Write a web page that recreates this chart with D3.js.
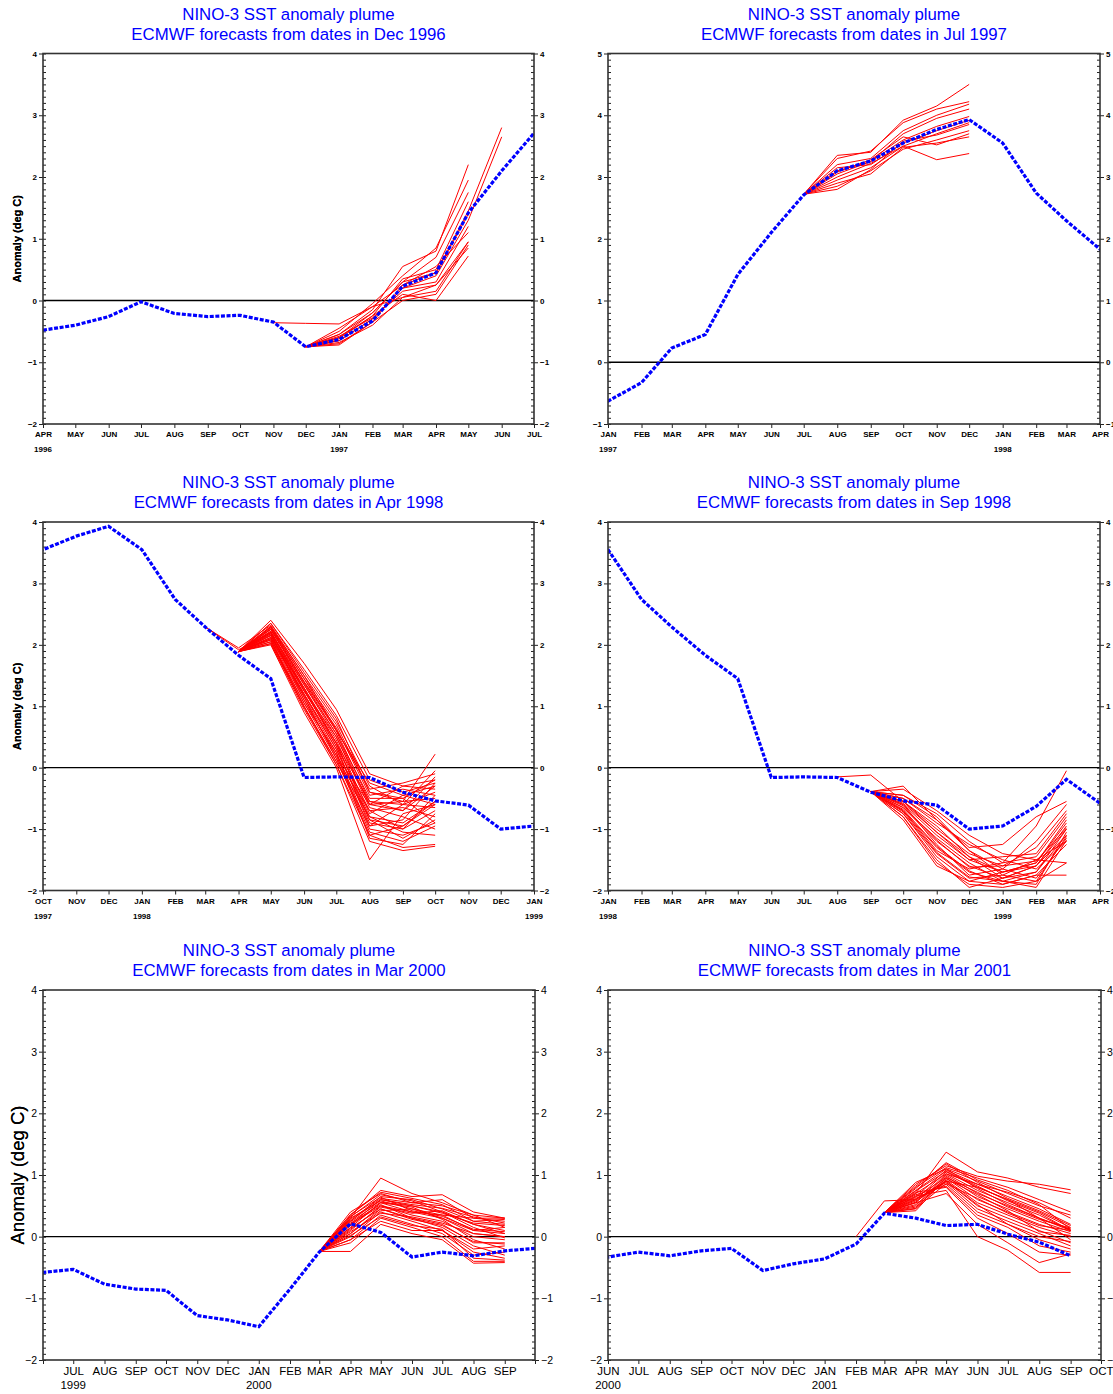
<!DOCTYPE html>
<html><head><meta charset="utf-8">
<script src="https://cdn.jsdelivr.net/npm/d3@7"></script>
<style>
body{margin:0;background:#fff}
svg{display:block}
text{font-family:"Liberation Sans",Arial,Helvetica,sans-serif}
</style>
</head><body>
<svg id="c" width="1113" height="1394"></svg>
<script>
// ---------------- DATA ----------------
// Observed NINO-3 SST anomaly (deg C), monthly (May 1999 not shown in any panel)
const obsMonths = ["1996-04","1996-05","1996-06","1996-07","1996-08","1996-09","1996-10","1996-11","1996-12",
 "1997-01","1997-02","1997-03","1997-04","1997-05","1997-06","1997-07","1997-08","1997-09","1997-10","1997-11","1997-12",
 "1998-01","1998-02","1998-03","1998-04","1998-05","1998-06","1998-07","1998-08","1998-09","1998-10","1998-11","1998-12",
 "1999-01","1999-02","1999-03","1999-04","1999-06","1999-07","1999-08","1999-09","1999-10","1999-11","1999-12",
 "2000-01","2000-02","2000-03","2000-04","2000-05","2000-06","2000-07","2000-08","2000-09","2000-10","2000-11","2000-12",
 "2001-01","2001-02","2001-03","2001-04","2001-05","2001-06","2001-07","2001-08","2001-09"];
const obsValues = [-0.48,-0.40,-0.26,-0.02,-0.21,-0.26,-0.24,-0.35,-0.75,
 -0.63,-0.33,0.23,0.45,1.42,2.10,2.71,3.10,3.26,3.55,3.77,3.93,
 3.55,2.74,2.29,1.83,1.45,-0.16,-0.15,-0.16,-0.40,-0.54,-0.61,-1.00,
 -0.95,-0.63,-0.19,-0.58,-0.58,-0.53,-0.77,-0.85,-0.87,-1.28,-1.35,
 -1.46,-0.85,-0.25,0.21,0.07,-0.33,-0.25,-0.31,-0.23,-0.19,-0.55,-0.44,
 -0.36,-0.12,0.38,0.30,0.18,0.20,0.04,-0.09,-0.31];

// Forecast ensemble members: monthly values starting at the given month
const fc1Start = "1996-12";
const fc1 = [
 [-0.75,-0.55,-0.15,0.55,0.80,2.20],
 [-0.75,-0.50,-0.05,0.40,0.85,1.95],
 [-0.75,-0.60,-0.20,0.30,0.70,1.75],
 [-0.75,-0.62,-0.25,0.35,0.50,1.60],
 [-0.75,-0.70,-0.35,0.25,0.45,1.40],
 [-0.75,-0.65,-0.30,0.20,0.30,1.20],
 [-0.75,-0.68,-0.40,0.05,0.15,0.95],
 [-0.75,-0.72,-0.35,0.00,0.10,0.90],
 [-0.75,-0.60,-0.25,0.10,0.00,0.72],
 [-0.75,-0.55,-0.20,0.30,0.45,1.45,2.80],
 [-0.75,-0.65,-0.30,0.20,0.40,1.30,2.65],
 [-0.75,-0.45,-0.10,0.25,0.55,1.10],
 [-0.75,-0.58,-0.28,0.15,0.25,0.85]
];
const fc1bStart = "1996-11";
const fc1b = [[-0.36,-0.37,-0.38,-0.10,0.05,0.25,0.95]];

const fc2Start = "1997-07";
const fc2 = [
 [2.72,3.35,3.40,3.92,4.15,4.50],
 [2.72,3.30,3.42,3.88,4.10,4.22],
 [2.72,3.20,3.30,3.75,4.00,4.18],
 [2.72,3.10,3.25,3.70,3.95,4.10],
 [2.72,3.05,3.25,3.60,3.82,3.98],
 [2.72,3.15,3.20,3.55,3.75,3.92],
 [2.72,2.95,3.15,3.50,3.70,3.88],
 [2.72,2.85,3.10,3.45,3.60,3.75],
 [2.72,2.90,3.05,3.48,3.55,3.65],
 [2.72,3.00,3.22,3.50,3.28,3.38],
 [2.72,3.08,3.28,3.65,3.52,3.70],
 [2.72,2.80,3.12,3.58,3.68,3.85]
];

const fc3Start = "1998-04";
const fc3 = [
 [1.89,2.40,1.70,0.95,-0.10,-0.30,-0.35],
 [1.89,2.35,1.60,0.85,-0.20,-0.40,-0.25],
 [1.89,2.30,1.45,0.70,-0.40,-0.55,0.22],
 [1.89,2.28,1.40,0.60,-0.55,-0.60,-0.05],
 [1.89,2.25,1.35,0.50,-0.60,-0.70,-0.15],
 [1.89,2.22,1.30,0.45,-0.75,-0.45,-0.30],
 [1.89,2.20,1.25,0.40,-0.80,-0.90,-0.55],
 [1.89,2.18,1.20,0.35,-0.70,-0.65,-0.80],
 [1.89,2.15,1.18,0.30,-0.90,-1.00,-0.70],
 [1.89,2.12,1.15,0.25,-1.00,-1.10,-0.90],
 [1.89,2.10,1.10,0.20,-1.05,-1.20,-0.95],
 [1.89,2.08,1.05,0.15,-1.10,-1.30,-1.25],
 [1.89,2.05,1.00,0.10,-0.95,-0.60,-0.40],
 [1.89,2.02,0.95,0.05,-1.20,-1.35,-1.28],
 [1.89,2.00,0.90,0.00,-1.50,-0.75,-0.60],
 [1.89,2.20,1.35,0.55,-0.50,-0.50,-0.20],
 [1.89,2.25,1.40,0.65,-0.45,-0.35,-0.45],
 [1.89,2.15,1.25,0.50,-0.65,-0.80,-1.00],
 [1.89,2.10,1.20,0.30,-0.85,-1.15,-0.85],
 [1.89,2.30,1.50,0.75,-0.30,-0.60,-0.65],
 [1.89,2.18,1.10,0.20,-0.60,-0.55,-0.50],
 [1.89,2.05,1.05,0.25,-1.15,-1.25,-0.75],
 [1.89,2.12,1.30,0.40,-0.55,-0.70,-0.30],
 [1.89,2.28,1.45,0.60,-0.25,-0.45,-0.60],
 [1.89,2.08,0.98,0.10,-0.80,-1.05,-1.10],
 [1.89,2.22,1.28,0.35,-0.95,-0.85,-0.25],
 [1.89,2.16,1.15,0.15,-0.70,-1.00,-0.45],
 [1.89,2.35,1.55,0.80,-0.40,-0.50,-0.90],
 [1.89,2.02,1.00,0.05,-1.10,-0.95,-0.55],
 [1.89,2.26,1.38,0.55,-0.60,-0.30,-0.20]
];
const fc3bStart = "1998-03";
const fc3b = [
 [2.29,1.92,2.20,1.25,0.40,-0.85,-0.95,-0.60],
 [2.29,1.95,2.32,1.50,0.62,-0.35,-0.25,-0.10]
];

const fc4Start = "1998-09";
const fc4 = [
 [-0.39,-0.45,-0.75,-1.20,-1.55,-0.95,-0.05],
 [-0.39,-0.50,-0.85,-1.30,-1.25,-0.80,-0.55],
 [-0.39,-0.55,-1.00,-1.40,-1.60,-1.30,-0.70],
 [-0.39,-0.60,-1.10,-1.50,-1.70,-1.55,-0.90],
 [-0.39,-0.65,-1.20,-1.60,-1.80,-1.60,-1.00],
 [-0.39,-0.70,-1.30,-1.70,-1.85,-1.70,-1.10],
 [-0.39,-0.75,-1.40,-1.80,-1.75,-1.50,-1.20],
 [-0.39,-0.80,-1.55,-1.90,-1.95,-1.85,-1.55],
 [-0.39,-0.85,-1.60,-1.85,-1.90,-1.75,-1.75],
 [-0.39,-0.60,-1.25,-1.75,-1.65,-1.80,-1.15],
 [-0.39,-0.55,-0.95,-1.45,-1.80,-1.60,-0.95],
 [-0.39,-0.70,-1.35,-1.65,-1.55,-1.45,-0.80],
 [-0.39,-0.65,-1.15,-1.55,-1.85,-1.90,-1.05],
 [-0.39,-0.50,-0.90,-1.25,-1.50,-1.65,-1.20],
 [-0.39,-0.75,-1.45,-1.85,-1.70,-1.55,-0.85],
 [-0.39,-0.45,-0.80,-1.35,-1.75,-1.85,-1.12],
 [-0.39,-0.80,-1.50,-1.95,-1.80,-1.70,-1.00],
 [-0.39,-0.58,-1.05,-1.50,-1.45,-1.40,-0.75],
 [-0.39,-0.68,-1.28,-1.68,-1.90,-1.75,-1.25],
 [-0.39,-0.62,-1.18,-1.62,-1.60,-1.52,-0.98],
 [-0.39,-0.72,-1.38,-1.78,-1.85,-1.95,-1.18],
 [-0.39,-0.35,-0.70,-1.10,-1.40,-1.50,-1.55],
 [-0.39,-0.30,-0.85,-1.35,-1.65,-1.20,-0.60]
];
const fc4bStart = "1998-08";
const fc4b = [[-0.15,-0.12,-0.55,-1.05,-1.45,-1.70,-1.60,-1.10]];

const fc5Start = "2000-03";
const fc5 = [
 [-0.24,0.30,0.95,0.70,0.55,0.35,0.30],
 [-0.24,0.35,0.75,0.65,0.68,0.40,0.30],
 [-0.24,0.40,0.70,0.55,0.60,0.30,0.25],
 [-0.24,0.25,0.65,0.60,0.45,0.25,0.20],
 [-0.24,0.20,0.60,0.50,0.40,0.20,0.10],
 [-0.24,0.30,0.58,0.45,0.35,0.10,0.05],
 [-0.24,0.15,0.55,0.40,0.30,0.05,0.00],
 [-0.24,0.10,0.50,0.35,0.25,0.00,-0.05],
 [-0.24,0.05,0.45,0.30,0.20,-0.10,-0.10],
 [-0.24,0.00,0.40,0.25,0.10,-0.20,-0.15],
 [-0.24,-0.05,0.35,0.20,0.05,-0.30,-0.25],
 [-0.24,-0.10,0.30,0.15,0.00,-0.40,-0.40],
 [-0.24,-0.24,0.20,0.05,-0.05,-0.43,-0.42],
 [-0.24,0.20,0.50,0.40,0.35,0.30,0.30],
 [-0.24,0.28,0.62,0.55,0.50,0.35,0.15],
 [-0.24,0.12,0.48,0.38,0.42,0.20,0.05],
 [-0.24,0.32,0.68,0.58,0.40,0.15,-0.02],
 [-0.24,0.05,0.42,0.45,0.30,0.10,0.15],
 [-0.24,0.18,0.55,0.48,0.28,-0.05,-0.20],
 [-0.24,0.22,0.52,0.30,0.15,-0.15,-0.30],
 [-0.24,-0.05,0.25,0.10,0.10,-0.25,-0.35],
 [-0.24,0.36,0.72,0.62,0.52,0.25,0.28],
 [-0.24,0.08,0.38,0.32,0.22,0.05,0.00],
 [-0.24,0.26,0.60,0.52,0.46,0.32,0.22],
 [-0.24,0.14,0.45,0.28,0.18,-0.08,-0.12],
 [-0.24,0.33,0.64,0.42,0.33,0.12,0.08],
 [-0.24,0.02,0.32,0.18,0.12,-0.35,-0.38],
 [-0.24,0.24,0.56,0.50,0.38,0.22,0.18]
];

const fc6Start = "2001-03";
const fc6 = [
 [0.39,0.70,1.37,1.05,0.95,0.80,0.70],
 [0.39,0.85,1.15,0.98,0.90,0.85,0.76],
 [0.39,0.80,1.12,0.95,0.80,0.60,0.40],
 [0.39,0.75,1.10,0.90,0.70,0.50,0.35],
 [0.39,0.65,1.08,0.85,0.65,0.45,0.20],
 [0.39,0.60,1.05,0.80,0.60,0.40,0.15],
 [0.39,0.55,1.02,0.75,0.55,0.35,0.10],
 [0.39,0.50,1.00,0.70,0.50,0.30,0.12],
 [0.39,0.45,0.98,0.65,0.45,0.25,0.08],
 [0.39,0.42,0.95,0.60,0.40,0.20,0.05],
 [0.39,0.48,0.92,0.55,0.35,0.15,0.00],
 [0.39,0.52,0.90,0.50,0.30,0.10,-0.10],
 [0.39,0.58,0.88,0.45,0.25,0.05,-0.15],
 [0.39,0.62,0.85,0.40,0.20,-0.05,-0.20],
 [0.39,0.68,0.82,0.35,0.15,-0.15,-0.25],
 [0.39,0.72,0.80,0.30,0.05,-0.25,-0.30],
 [0.39,0.66,0.75,0.00,-0.22,-0.58,-0.58],
 [0.39,0.55,0.70,0.20,-0.10,-0.42,-0.28],
 [0.39,0.78,1.20,0.92,0.75,0.52,0.12],
 [0.39,0.82,1.18,0.88,0.62,0.42,0.18],
 [0.39,0.74,1.06,0.82,0.58,0.38,0.10],
 [0.39,0.64,0.96,0.72,0.48,0.28,0.14],
 [0.39,0.88,1.10,0.78,0.52,0.30,-0.05],
 [0.39,0.46,0.86,0.62,0.38,0.18,0.10],
 [0.39,0.56,0.94,0.68,0.42,0.08,0.02],
 [0.39,0.70,1.02,0.85,0.72,0.55,0.30],
 [0.39,0.60,0.90,0.52,0.20,0.00,-0.08]
];
const fc6bStart = "2001-02";
const fc6b = [[0.00,0.58,0.60,0.90,0.80,0.60,0.30,0.10]];

// Axis tick labels
const monthsAprJul = ["APR","MAY","JUN","JUL","AUG","SEP","OCT","NOV","DEC","JAN","FEB","MAR","APR","MAY","JUN","JUL"];
const monthsJanApr = ["JAN","FEB","MAR","APR","MAY","JUN","JUL","AUG","SEP","OCT","NOV","DEC","JAN","FEB","MAR","APR"];
const monthsOctJan = ["OCT","NOV","DEC","JAN","FEB","MAR","APR","MAY","JUN","JUL","AUG","SEP","OCT","NOV","DEC","JAN"];
const monthsJunOct5 = ["","JUL","AUG","SEP","OCT","NOV","DEC","JAN","FEB","MAR","APR","MAY","JUN","JUL","AUG","SEP",""];
const monthsJunOct6 = ["JUN","JUL","AUG","SEP","OCT","NOV","DEC","JAN","FEB","MAR","APR","MAY","JUN","JUL","AUG","SEP","OCT"];
const years1 = [["1996-04","1996"],["1997-01","1997"]];
const years2 = [["1997-01","1997"],["1998-01","1998"]];
const years3 = [["1997-10","1997"],["1998-01","1998"],["1999-01","1999"]];
const years4 = [["1998-01","1998"],["1999-01","1999"]];
const years5 = [["1999-07","1999"],["2000-01","2000"]];
const years6 = [["2000-06","2000"],["2001-01","2001"]];
const titleLine1 = "NINO-3 SST anomaly plume";
const titles2 = ["ECMWF forecasts from dates in Dec 1996","ECMWF forecasts from dates in Jul 1997",
 "ECMWF forecasts from dates in Apr 1998","ECMWF forecasts from dates in Sep 1998",
 "ECMWF forecasts from dates in Mar 2000","ECMWF forecasts from dates in Mar 2001"];
const yLabel = "Anomaly (deg C)";

// ---------------- CHART ----------------
const parseM = d3.timeParse("%Y-%m");
const BLUE = "#0000ff", RED = "#ff0000";
const svg = d3.select("#c");

const panels = [
 {box:{l:43,t:53.5,r:534,b:424}, x0:"1996-04", x1:"1997-07", yd:[-2,4], months:monthsAprJul, years:years1,
  fc:[[fc1Start,fc1],[fc1bStart,fc1b]], big:false, title:titles2[0]},
 {box:{l:608,t:53.5,r:1100,b:424}, x0:"1997-01", x1:"1998-04", yd:[-1,5], months:monthsJanApr, years:years2,
  fc:[[fc2Start,fc2]], big:false, title:titles2[1]},
 {box:{l:43,t:522,r:534,b:890.5}, x0:"1997-10", x1:"1999-01", yd:[-2,4], months:monthsOctJan, years:years3,
  fc:[[fc3Start,fc3],[fc3bStart,fc3b]], big:false, title:titles2[2]},
 {box:{l:608,t:522,r:1100,b:890.5}, x0:"1998-01", x1:"1999-04", yd:[-2,4], months:monthsJanApr, years:years4,
  fc:[[fc4Start,fc4],[fc4bStart,fc4b]], big:false, title:titles2[3]},
 {box:{l:43,t:990,r:535,b:1360}, x0:"1999-06", x1:"2000-10", yd:[-2,4], months:monthsJunOct5, years:years5,
  fc:[[fc5Start,fc5]], big:true, title:titles2[4]},
 {box:{l:608,t:990,r:1101,b:1360}, x0:"2000-06", x1:"2001-10", yd:[-2,4], months:monthsJunOct6, years:years6,
  fc:[[fc6Start,fc6],[fc6bStart,fc6b]], big:true, title:titles2[5]}
];

const obs = obsMonths.map((m,i)=>[parseM(m), obsValues[i]]);

panels.forEach((p,pi)=>{
  const b = p.box;
  const d0 = parseM(p.x0), d1 = parseM(p.x1);
  const x = d3.scaleTime().domain([d0,d1]).range([b.l,b.r]);
  const y = d3.scaleLinear().domain(p.yd).range([b.b,b.t]);
  const g = svg.append("g");
  const cid = "clip"+pi;
  svg.append("clipPath").attr("id",cid).append("rect")
    .attr("x",b.l).attr("y",b.t).attr("width",b.r-b.l).attr("height",b.b-b.t);

  // titles
  const cx = (b.l+b.r)/2;
  g.append("text").attr("x",cx).attr("y",b.t-34).attr("text-anchor","middle")
    .attr("font-size",16.8).attr("fill",BLUE).text(titleLine1);
  g.append("text").attr("x",cx).attr("y",b.t-14).attr("text-anchor","middle")
    .attr("font-size",16.8).attr("fill",BLUE).text(p.title);

  const tickFs = p.big ? 11.5 : 8;
  const yTickFs = p.big ? 10.5 : 8;
  const tickFw = p.big ? "normal" : "bold";

  // x axis
  const monthTicks = d3.timeMonth.range(d0, d3.timeMonth.offset(d1,1));
  const xa = g.append("g").attr("transform",`translate(0,${b.b})`)
    .call(d3.axisBottom(x).tickValues(monthTicks).tickSize(4).tickPadding(3)
      .tickFormat((d,i)=>p.months[i]));
  xa.select(".domain").remove();
  xa.selectAll("line").attr("stroke","#222");
  xa.selectAll("text").attr("font-size",tickFs).attr("font-weight",tickFw).attr("font-family",null)
    .attr("fill","#000").attr("dy",null).attr("y", p.big?15:13);
  // years
  g.selectAll(null).data(p.years).enter().append("text")
    .attr("x",d=>x(parseM(d[0]))).attr("y",b.b+(p.big?29:28))
    .attr("text-anchor","middle").attr("font-size",tickFs).attr("font-weight",tickFw).text(d=>d[1]);

  // y axes
  const majors = d3.range(p.yd[0], p.yd[1]+1);
  const minors = d3.range(p.yd[0]*10, p.yd[1]*10+1).map(v=>v/10);
  const yl = g.append("g").attr("transform",`translate(${b.l},0)`)
    .call(d3.axisLeft(y).tickValues(majors).tickSize(4).tickPadding(2).tickFormat(d3.format("d")));
  const yr = g.append("g").attr("transform",`translate(${b.r},0)`)
    .call(d3.axisRight(y).tickValues(majors).tickSize(4).tickPadding(2).tickFormat(d3.format("d")));
  const ylm = g.append("g").attr("transform",`translate(${b.l},0)`)
    .call(d3.axisRight(y).tickValues(minors).tickSize(3).tickFormat(""));
  const yrm = g.append("g").attr("transform",`translate(${b.r},0)`)
    .call(d3.axisLeft(y).tickValues(minors).tickSize(3).tickFormat(""));
  [yl,yr,ylm,yrm].forEach(a=>{
    a.select(".domain").remove();
    a.selectAll("line").attr("stroke","#222");
    a.selectAll("text").attr("font-size",yTickFs).attr("font-weight",tickFw)
      .attr("font-family",null).attr("fill","#000");
  });

  // y title
  g.append("text").attr("transform",`translate(17,${(b.t+b.b)/2}) rotate(-90)`)
    .attr("text-anchor","middle").attr("dominant-baseline","central")
    .attr("font-size", p.big?18.5:11).attr("font-weight", p.big?"normal":"bold")
    .attr("fill","#000").text(yLabel);

  const plot = g.append("g").attr("clip-path",`url(#${cid})`);
  // zero line
  plot.append("line").attr("x1",b.l).attr("x2",b.r).attr("y1",y(0)).attr("y2",y(0))
    .attr("stroke","#000").attr("stroke-width",1.3);

  const line = d3.line().x(d=>x(d[0])).y(d=>y(d[1]));
  // forecasts
  p.fc.forEach(([start,members])=>{
    const s = parseM(start);
    members.forEach(vals=>{
      const pts = vals.map((v,i)=>[d3.timeMonth.offset(s,i), v]);
      plot.append("path").attr("d",line(pts)).attr("fill","none")
        .attr("stroke",RED).attr("stroke-width",1);
    });
  });
  // observed
  plot.append("path").attr("d",line(obs)).attr("fill","none")
    .attr("stroke",BLUE).attr("stroke-width",3.2).attr("stroke-dasharray","4,1.6");

  // frame
  g.append("rect").attr("x",b.l).attr("y",b.t).attr("width",b.r-b.l).attr("height",b.b-b.t)
    .attr("fill","none").attr("stroke","#333").attr("stroke-width",1.6);
});
</script>
</body></html>
